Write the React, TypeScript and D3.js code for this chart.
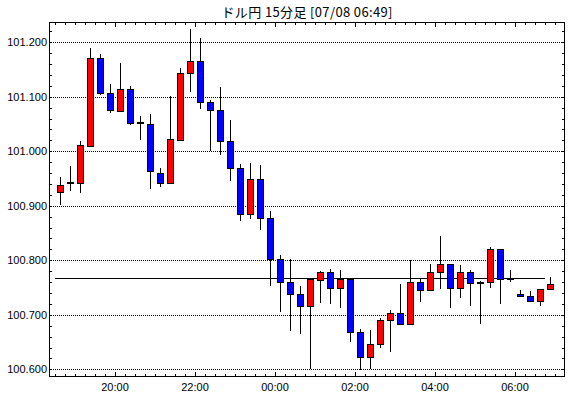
import React from "react";
import * as d3 from "d3";

const TITLE = "ドル円 15分足 [07/08 06:49]";

const times = [
  "07-07 18:30", "07-07 18:45", "07-07 19:00", "07-07 19:15", "07-07 19:30", "07-07 19:45",
  "07-07 20:00", "07-07 20:15", "07-07 20:30", "07-07 20:45", "07-07 21:00", "07-07 21:15",
  "07-07 21:30", "07-07 21:45", "07-07 22:00", "07-07 22:15", "07-07 22:30", "07-07 22:45",
  "07-07 23:00", "07-07 23:15", "07-07 23:30", "07-07 23:45", "07-08 00:00", "07-08 00:15",
  "07-08 00:30", "07-08 00:45", "07-08 01:00", "07-08 01:15", "07-08 01:30", "07-08 01:45",
  "07-08 02:00", "07-08 02:15", "07-08 02:30", "07-08 02:45", "07-08 03:00", "07-08 03:15",
  "07-08 03:30", "07-08 03:45", "07-08 04:00", "07-08 04:15", "07-08 04:30", "07-08 04:45",
  "07-08 05:00", "07-08 05:15", "07-08 05:30", "07-08 05:45", "07-08 06:00", "07-08 06:15",
  "07-08 06:30", "07-08 06:45",
];

const opens = [
  100.925, 100.940, 100.941, 101.010, 101.171, 101.106, 101.073, 101.114, 101.051, 101.050,
  100.961, 100.941, 101.021, 101.143, 101.165, 101.090, 101.075, 101.018, 100.969, 100.884,
  100.950, 100.877, 100.802, 100.761, 100.739, 100.716, 100.763, 100.778, 100.749, 100.766,
  100.668, 100.622, 100.646, 100.690, 100.703, 100.684, 100.760, 100.745, 100.778, 100.793,
  100.749, 100.778, 100.758, 100.761, 100.820, 100.766, 100.739, 100.734, 100.725, 100.747,
];
const highs = [
  100.953, 100.973, 101.019, 101.190, 101.179, 101.123, 101.162, 101.120, 101.064, 101.068,
  100.969, 101.101, 101.153, 101.225, 101.207, 101.094, 101.118, 101.057, 100.977, 100.979,
  100.975, 100.890, 100.809, 100.802, 100.752, 100.767, 100.780, 100.784, 100.782, 100.767,
  100.674, 100.672, 100.695, 100.709, 100.757, 100.801, 100.766, 100.793, 100.845, 100.793,
  100.791, 100.782, 100.762, 100.824, 100.820, 100.783, 100.745, 100.744, 100.747, 100.769,
];
const lows = [
  100.901, 100.928, 100.924, 101.008, 101.103, 101.071, 101.073, 101.049, 101.020, 100.930,
  100.935, 100.941, 101.018, 101.108, 101.078, 101.000, 100.994, 100.946, 100.872, 100.876,
  100.856, 100.753, 100.706, 100.671, 100.665, 100.600, 100.722, 100.720, 100.713, 100.651,
  100.599, 100.600, 100.640, 100.632, 100.684, 100.684, 100.724, 100.745, 100.747, 100.713,
  100.731, 100.717, 100.684, 100.750, 100.719, 100.760, 100.732, 100.723, 100.717, 100.745,
];
const closes = [
  100.939, 100.941, 101.011, 101.171, 101.106, 101.075, 101.114, 101.051, 101.050, 100.963,
  100.941, 101.022, 101.143, 101.165, 101.090, 101.075, 101.018, 100.969, 100.884, 100.950,
  100.877, 100.802, 100.761, 100.739, 100.716, 100.766, 100.778, 100.749, 100.766, 100.668,
  100.622, 100.646, 100.690, 100.703, 100.684, 100.760, 100.745, 100.778, 100.793, 100.749,
  100.778, 100.758, 100.761, 100.820, 100.765, 100.765, 100.734, 100.725, 100.747, 100.756,
];

const refLevel = 100.767;
const yTickValues = [100.6, 100.7, 100.8, 100.9, 101.0, 101.1, 101.2];
const xMajorLabels = ["07-07 20:00", "07-07 22:00", "07-08 00:00", "07-08 02:00", "07-08 04:00", "07-08 06:00"];
const xDomain = ["07-07 18:21", "07-08 07:15"];
const yDomain = [100.586, 101.237];

const parse = (s: string) => {
  const [md, hm] = s.split(" ");
  const [mo, da] = md.split("-").map(Number);
  const [h, m] = hm.split(":").map(Number);
  return new Date(2014, mo - 1, da, h, m);
};

const W = 570;
const H = 398;
const L = 49, R = 565, T = 22, B = 377;

export default function App() {
  const x = d3.scaleTime().domain(xDomain.map(parse)).range([L, R]);
  const y = d3.scaleLinear().domain(yDomain).range([B, T]);
  const half = 7.5 * 60 * 1000;
  const px = (v: number) => Math.round(v) + 0.5;

  const data = times.map((t, i) => ({
    t: parse(t), o: opens[i], h: highs[i], l: lows[i], c: closes[i],
  }));

  const minorX = d3.timeMinute.every(15)!.range(x.domain()[0], x.domain()[1]).filter(d => d.getMinutes() % 15 === 0);
  const majorX = xMajorLabels.map(parse);
  const majorSet = new Set(majorX.map(d => +d));
  const minorY = d3.range(Math.ceil(yDomain[0] / 0.02), Math.floor(yDomain[1] / 0.02) + 1).map(k => +(k * 0.02).toFixed(2));
  const fmtY = d3.format(".3f");
  const fmtX = d3.timeFormat("%H:%M");

  return (
    <svg width={W} height={H} style={{ position: "absolute", left: 0, top: 0, background: "#fff" }}>
      <rect x={0} y={0} width={W} height={H} fill="#fff" />
      <text x={(L + R) / 2} y={17} textAnchor="middle" fontFamily="'Noto Sans CJK JP'" fontSize={13}
        textLength={171} lengthAdjust="spacing" fill="#000">{TITLE}</text>

      {/* grid */}
      {yTickValues.map(v => (
        <line key={"g" + v} x1={L} x2={R} y1={px(y(v))} y2={px(y(v))} stroke="#000" strokeDasharray="1,1" shapeRendering="crispEdges" />
      ))}

      {/* reference line */}
      <line x1={x(data[0].t)} x2={x(data[data.length - 1].t)} y1={px(y(refLevel))} y2={px(y(refLevel))} stroke="#000" shapeRendering="crispEdges" />

      {/* candles */}
      {data.map((d, i) => {
        const cx = px(x(new Date(+d.t + half)));
        const top = y(Math.max(d.o, d.c));
        const bot = y(Math.min(d.o, d.c));
        const up = d.c > d.o;
        const doji = Math.abs(d.c - d.o) < 0.0025;
        return (
          <g key={i}>
            <line x1={cx} x2={cx} y1={Math.round(y(d.h))} y2={Math.round(y(d.l))} stroke="#000" shapeRendering="crispEdges" />
            {doji ? (
              <rect x={cx - 3.5} y={Math.round(top) - 1} width={7} height={2} fill="#000" shapeRendering="crispEdges" />
            ) : (
              <rect x={cx - 3} y={Math.round(top) + 0.5} width={6} height={Math.max(1, Math.round(bot) - Math.round(top))}
                fill={up ? "#ff0000" : "#0000ff"} stroke="#000" shapeRendering="crispEdges" />
            )}
          </g>
        );
      })}

      {/* y ticks */}
      {minorY.map(v => (
        <g key={"yt" + v}>
          <line x1={L} x2={L + 3} y1={px(y(v))} y2={px(y(v))} stroke="#000" shapeRendering="crispEdges" />
          <line x1={R - 3} x2={R} y1={px(y(v))} y2={px(y(v))} stroke="#000" shapeRendering="crispEdges" />
        </g>
      ))}
      {/* x ticks */}
      {minorX.map(d => {
        const len = majorSet.has(+d) ? 5 : 3;
        const xx = px(x(d));
        return (
          <g key={"xt" + +d}>
            <line x1={xx} x2={xx} y1={T} y2={T + len} stroke="#000" shapeRendering="crispEdges" />
            <line x1={xx} x2={xx} y1={B} y2={B - len} stroke="#000" shapeRendering="crispEdges" />
          </g>
        );
      })}

      {/* frame */}
      <rect x={L + 0.5} y={T + 0.5} width={R - L - 1} height={B - T - 1} fill="none" stroke="#000" strokeWidth={1.5} shapeRendering="crispEdges" />

      {/* labels */}
      {yTickValues.map(v => (
        <text key={"yl" + v} x={L - 2} y={y(v)} dy="0.35em" textAnchor="end" fontFamily="'Liberation Sans', Arial, sans-serif" fontSize={11} fill="#000">{fmtY(v)}</text>
      ))}
      {majorX.map(d => (
        <text key={"xl" + +d} x={x(d)} y={391} textAnchor="middle" fontFamily="'Liberation Sans', Arial, sans-serif" fontSize={11} fill="#000">{fmtX(d)}</text>
      ))}
    </svg>
  );
}
